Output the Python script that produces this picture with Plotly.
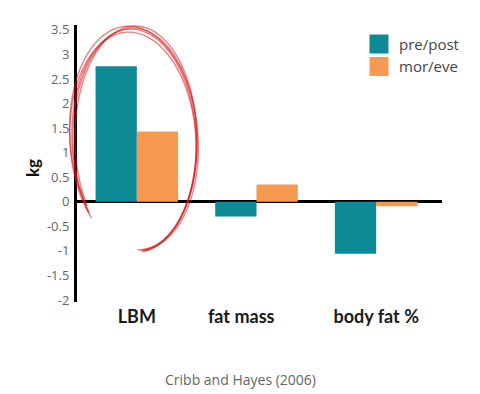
import numpy as np
import plotly.graph_objects as go

categories = ["LBM", "fat mass", "body fat %"]
pre_post = [2.76, -0.3, -1.06]
mor_eve = [1.43, 0.35, -0.09]
series_names = ["pre/post", "mor/eve"]
y_ticks = [3.5, 3, 2.5, 2, 1.5, 1, 0.5, 0, -0.5, -1, -1.5, -2]
y_tick_text = ["3.5", "3", "2.5", "2", "1.5", "1", "0.5", "0", "-0.5", "-1", "-1.5", "-2"]

TEAL = "#0E8A96"
ORANGE = "#F7994F"

W, H = 480, 394
L, R, T, B = 77, 38, 25, 92
PW, PH = W - L - R, H - T - B

fig = go.Figure()
fig.add_trace(go.Bar(x=categories, y=pre_post, name=series_names[0],
                     marker=dict(color=TEAL, line=dict(width=0)), showlegend=False))
fig.add_trace(go.Bar(x=categories, y=mor_eve, name=series_names[1],
                     marker=dict(color=ORANGE, line=dict(width=0)), showlegend=False))
# legend proxies (big squares)
for nm, col in zip(series_names, [TEAL, ORANGE]):
    fig.add_trace(go.Scatter(x=[None], y=[None], mode="markers", name=nm,
                             marker=dict(symbol="square", size=16, color=col,
                                         line=dict(color=col, width=3))))

# hand-drawn red ellipse around LBM bars (decoration, pixel based -> paper)
def px2paper(px, py):
    return (px - L) / PW, 1 - (py - T) / PH

shapes = []
variants = [(134, 140, 62, 111, 0.0, 88, -220), (136, 139, 61, 113, 0.03, 84, -216),
            (133, 141, 63, 109, -0.02, 92, -223), (135, 140, 62, 112, 0.015, 86, -219),
            (134, 138, 64, 112, -0.035, 90, -214)]
for cx, cy, rx, ry, rot, a0, a1 in variants:
    t = np.linspace(np.deg2rad(a0), np.deg2rad(a1), 140)
    xs = rx * np.cos(t)
    ys = ry * np.sin(t)
    ang = -0.04 + rot
    xr = cx + xs * np.cos(ang) - ys * np.sin(ang)
    yr = cy + xs * np.sin(ang) + ys * np.cos(ang)
    pts = [px2paper(a, b) for a, b in zip(xr, yr)]
    path = "M " + " L ".join(f"{a:.4f},{b:.4f}" for a, b in pts)
    shapes.append(dict(type="path", xref="paper", yref="paper", path=path,
                       line=dict(color="rgba(215,25,30,0.55)", width=1.4)))

fig.update_layout(
    width=W, height=H, autosize=False,
    margin=dict(l=L, r=R, t=T, b=B, pad=0),
    paper_bgcolor="white", plot_bgcolor="white",
    barmode="group", bargap=0.31, bargroupgap=0,
    font=dict(family="Open Sans, sans-serif", color="#555"),
    xaxis=dict(range=[-0.5, 2.55], showline=False, showgrid=False, zeroline=False,
               automargin=False,
               ticks="", tickfont=dict(size=18, color="#1a1a1a", family="Lato, sans-serif", weight="bold"),
               tickvals=[0, 1, 2],
               ticktext=["LBM", "fat mass&nbsp;&nbsp;&nbsp;&nbsp;&nbsp;&nbsp;&nbsp;", "body fat %"],
               ticklabelstandoff=2),
    yaxis=dict(range=[-2.04, 3.6], tickvals=y_ticks, ticktext=y_tick_text,
               automargin=False,
               showgrid=False, showline=True, linecolor="black", linewidth=3,
               zeroline=True, zerolinecolor="black", zerolinewidth=2.5,
               ticks="", tickfont=dict(size=13, color="#666"), ticklabelstandoff=2),
    legend=dict(x=(359 - L) / PW, y=0.99, xanchor="left", yanchor="top",
                font=dict(size=15, color="#444"), bgcolor="rgba(0,0,0,0)",
                itemwidth=30, tracegroupgap=0),
    shapes=shapes,
    annotations=[dict(text="Cribb and Hayes (2006)", xref="paper", yref="paper",
                      x=(240 - L) / PW, y=1 - (379 - T) / PH, showarrow=False,
                      font=dict(size=14, color="#666"), xanchor="center", yanchor="middle"),
                 dict(text="<b>kg</b>", xref="paper", yref="paper",
                      x=(32 - L) / PW, y=1 - (168 - T) / PH, showarrow=False, textangle=-90,
                      font=dict(size=17, color="#111", family="Lato, sans-serif"),
                      xanchor="center", yanchor="middle")],
)

fig.write_html("out.html", config={"displayModeBar": False},
               post_script="document.body.style.margin='0';document.body.style.padding='0';")
